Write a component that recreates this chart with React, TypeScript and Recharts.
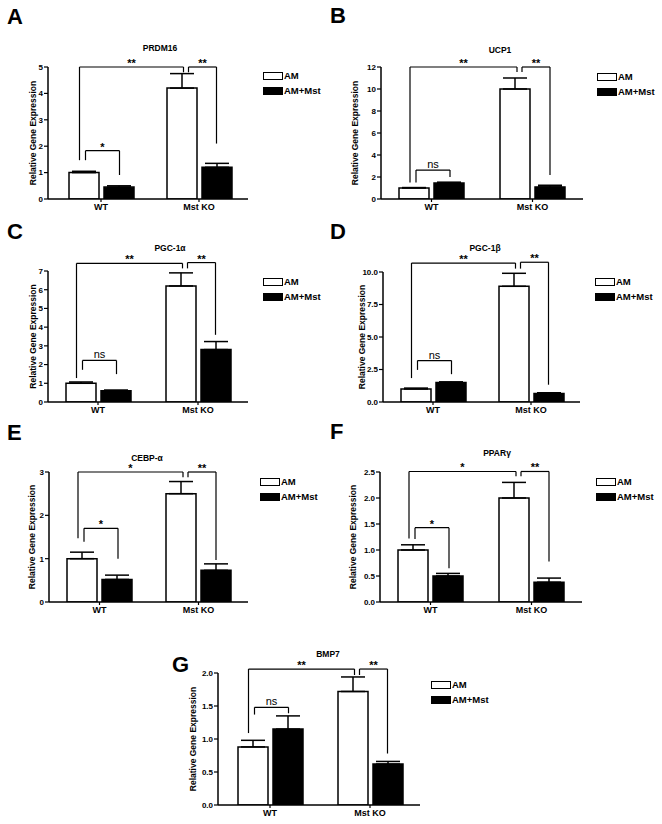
import React from "react"
import { BarChart, Bar, XAxis, YAxis, ErrorBar, ReferenceLine } from "recharts"

const FONT = "'Liberation Sans', Arial, sans-serif"
const BAR = 30
const GAP = 5

const groups = ["WT", "Mst KO"]
const slots = [0.5, 1.5]

// A - PRDM16
const prdm16Am = [1.0, 4.2]
const prdm16AmErr = [0.05, 0.55]
const prdm16Mst = [0.45, 1.2]
const prdm16MstErr = [0.05, 0.15]
const prdm16Ticks = [0, 1, 2, 3, 4, 5]

// B - UCP1
const ucp1Am = [1.0, 10.0]
const ucp1AmErr = [0.04, 1.0]
const ucp1Mst = [1.45, 1.1]
const ucp1MstErr = [0.08, 0.15]
const ucp1Ticks = [0, 2, 4, 6, 8, 10, 12]

// C - PGC-1a
const pgc1aAm = [1.0, 6.2]
const pgc1aAmErr = [0.07, 0.7]
const pgc1aMst = [0.6, 2.8]
const pgc1aMstErr = [0.04, 0.43]
const pgc1aTicks = [0, 1, 2, 3, 4, 5, 6, 7]

// D - PGC-1b
const pgc1bAm = [1.0, 8.9]
const pgc1bAmErr = [0.07, 1.0]
const pgc1bMst = [1.5, 0.65]
const pgc1bMstErr = [0.05, 0.06]
const pgc1bTicks = [0, 2.5, 5, 7.5, 10]

// E - CEBP-a
const cebpaAm = [1.0, 2.5]
const cebpaAmErr = [0.15, 0.28]
const cebpaMst = [0.52, 0.73]
const cebpaMstErr = [0.1, 0.15]
const cebpaTicks = [0, 1, 2, 3]

// F - PPARg
const ppargAm = [1.0, 2.0]
const ppargAmErr = [0.1, 0.3]
const ppargMst = [0.5, 0.38]
const ppargMstErr = [0.05, 0.08]
const ppargTicks = [0, 0.5, 1, 1.5, 2, 2.5]

// G - BMP7
const bmp7Am = [0.88, 1.72]
const bmp7AmErr = [0.1, 0.22]
const bmp7Mst = [1.15, 0.62]
const bmp7MstErr = [0.2, 0.04]
const bmp7Ticks = [0, 0.5, 1, 1.5, 2]

// significance brackets: bar keys wa/wm/ka/km, top height, leg ends
const prdm16Brackets = [
  { from: "wa", to: "ka", top: 5, legs: [1.47, 4.8], text: "**" },
  { from: "ka", to: "km", top: 5, legs: [4.8, 2.1], text: "**" },
  { from: "wa", to: "wm", top: 1.83, legs: [1.47, 0.91], text: "*" },
]
const ucp1Brackets = [
  { from: "wa", to: "ka", top: 12, legs: [1.5, 11.55], text: "**" },
  { from: "ka", to: "km", top: 12, legs: [11.55, 2.18], text: "**" },
  { from: "wa", to: "wm", top: 2.63, legs: [1.5, 2.0], text: "ns" },
]
const pgc1aBrackets = [
  { from: "wa", to: "ka", top: 7.41, legs: [1.28, 7.14], text: "**" },
  { from: "ka", to: "km", top: 7.45, legs: [7.14, 3.59], text: "**" },
  { from: "wa", to: "wm", top: 2.22, legs: [1.72, 1.49], text: "ns" },
]
const pgc1bBrackets = [
  { from: "wa", to: "ka", top: 10.69, legs: [1.84, 10.26], text: "**" },
  { from: "ka", to: "km", top: 10.75, legs: [10.26, 1.33], text: "**" },
  { from: "wa", to: "wm", top: 3.19, legs: [2.47, 2.14], text: "ns" },
]
const cebpaBrackets = [
  { from: "wa", to: "ka", top: 3.0, legs: [1.47, 2.88], text: "*" },
  { from: "ka", to: "km", top: 3.0, legs: [2.88, 0.97], text: "**" },
  { from: "wa", to: "wm", top: 1.7, legs: [1.39, 1.0], text: "*" },
]
const ppargBrackets = [
  { from: "wa", to: "ka", top: 2.51, legs: [1.22, 2.42], text: "*" },
  { from: "ka", to: "km", top: 2.51, legs: [2.42, 0.78], text: "**" },
  { from: "wa", to: "wm", top: 1.43, legs: [1.21, 0.65], text: "*" },
]
const bmp7Brackets = [
  { from: "wa", to: "ka", top: 2.06, legs: [1.09, 1.97], text: "**" },
  { from: "ka", to: "km", top: 2.06, legs: [1.97, 0.78], text: "**" },
  { from: "wa", to: "wm", top: 1.48, legs: [1.37, 1.39], text: "ns" },
]

const panels = [
  { letter: "A", letterPos: [7, 6], title: "PRDM16", titlePos: [160, 48], am: prdm16Am, amErr: prdm16AmErr, mst: prdm16Mst, mstErr: prdm16MstErr, ticks: prdm16Ticks, dec: 0, brackets: prdm16Brackets, plotLeft: 48, plotTop: 67, plotBottom: 199, pad: 4, band: 98, yWidth: 30, legend: [263, 72] },
  { letter: "B", letterPos: [330, 5], title: "UCP1", titlePos: [500, 50], am: ucp1Am, amErr: ucp1AmErr, mst: ucp1Mst, mstErr: ucp1MstErr, ticks: ucp1Ticks, dec: 0, brackets: ucp1Brackets, plotLeft: 381, plotTop: 67, plotBottom: 199, pad: 0, band: 101, yWidth: 52, legend: [597, 73] },
  { letter: "C", letterPos: [7, 221], title: "PGC-1\u03b1", titlePos: [170, 248], am: pgc1aAm, amErr: pgc1aAmErr, mst: pgc1aMst, mstErr: pgc1aMstErr, ticks: pgc1aTicks, dec: 0, brackets: pgc1aBrackets, plotLeft: 48, plotTop: 271, plotBottom: 402, pad: 0, band: 100, yWidth: 30, legend: [263, 278] },
  { letter: "D", letterPos: [330, 221], title: "PGC-1\u03b2", titlePos: [485, 248], am: pgc1bAm, amErr: pgc1bAmErr, mst: pgc1bMst, mstErr: pgc1bMstErr, ticks: pgc1bTicks, dec: 1, brackets: pgc1bBrackets, plotLeft: 383, plotTop: 272, plotBottom: 402, pad: 1, band: 98, yWidth: 42, legend: [595, 278] },
  { letter: "E", letterPos: [7, 422], title: "CEBP-\u03b1", titlePos: [147, 458], am: cebpaAm, amErr: cebpaAmErr, mst: cebpaMst, mstErr: cebpaMstErr, ticks: cebpaTicks, dec: 0, brackets: cebpaBrackets, plotLeft: 49, plotTop: 472, plotBottom: 602, pad: 1, band: 99, yWidth: 34, legend: [260, 478] },
  { letter: "F", letterPos: [330, 421], title: "PPAR\u03b3", titlePos: [497, 453], am: ppargAm, amErr: ppargAmErr, mst: ppargMst, mstErr: ppargMstErr, ticks: ppargTicks, dec: 1, brackets: ppargBrackets, plotLeft: 380, plotTop: 472, plotBottom: 602, pad: 0, band: 101, yWidth: 54, legend: [596, 478] },
  { letter: "G", letterPos: [172, 654], title: "BMP7", titlePos: [328, 654], am: bmp7Am, amErr: bmp7AmErr, mst: bmp7Mst, mstErr: bmp7MstErr, ticks: bmp7Ticks, dec: 1, brackets: bmp7Brackets, plotLeft: 218, plotTop: 673, plotBottom: 805, pad: 2, band: 100, yWidth: 50, legend: [431, 681] },
]

function nudge(b: any) {
  if (b.from === "wa" && b.to === "ka") return [-4, 2]
  if (b.from === "ka") return [7, 0]
  return [2, 1]
}

function Legend({ x, y }: { x: number; y: number }) {
  const items = [
    { name: "AM", fill: "#fff" },
    { name: "AM+Mst", fill: "#000" },
  ]
  return (
    <>
      {items.map((it, i) => (
        <div key={it.name} style={{ position: "absolute", left: x, top: y + i * 15, display: "flex", alignItems: "center", height: 8 }}>
          <span style={{ display: "inline-block", width: 18, height: 6, background: it.fill, border: "1.5px solid #000" }} />
          <span style={{ marginLeft: 1, fontSize: 9.5, fontWeight: 700, fontFamily: FONT, lineHeight: "8px" }}>{it.name}</span>
        </div>
      ))}
    </>
  )
}

function Panel({ p }: { p: any }) {
  const data = groups.map((g, i) => ({
    group: g,
    slot: slots[i],
    am: p.am[i],
    amErr: [0, p.amErr[i]],
    mst: p.mst[i],
    mstErr: [0, p.mstErr[i]],
  }))
  const boxLeft = p.plotLeft - p.yWidth
  const boxTop = p.plotTop - 24
  const width = p.yWidth + p.pad + 2 * p.band + 6
  const height = p.plotBottom - boxTop + 20
  const half = (BAR + GAP) / 2 / p.band
  const pos: Record<string, number> = { wa: 0.5 - half, wm: 0.5 + half, ka: 1.5 - half, km: 1.5 + half }
  const yMax = p.ticks[p.ticks.length - 1]
  const line = { stroke: "#000", strokeWidth: 1.2, ifOverflow: "visible" as const, xAxisId: "b" }

  return (
    <>
      <div style={{ position: "absolute", left: p.letterPos[0], top: p.letterPos[1], fontSize: 22, fontWeight: 700, fontFamily: FONT, lineHeight: "22px" }}>
        {p.letter}
      </div>
      <div style={{ position: "absolute", left: p.titlePos[0] - 60, top: p.titlePos[1] - 5, width: 120, textAlign: "center", fontSize: 8.5, fontWeight: 700, fontFamily: FONT, lineHeight: "10px" }}>
        {p.title}
      </div>
      <div style={{ position: "absolute", left: boxLeft, top: boxTop }}>
        <BarChart width={width} height={height} data={data} barGap={GAP} margin={{ top: 24, right: 6, bottom: 0, left: 0 }} style={{ overflow: "visible" }}>
          <XAxis
            dataKey="group"
            height={20}
            padding={{ left: p.pad, right: 0 }}
            tickLine={{ stroke: "#000", strokeWidth: 1.2 }}
            tickSize={3}
            tickMargin={2}
            axisLine={{ stroke: "#000", strokeWidth: 1.5 }}
            tick={{ fill: "#000", fontSize: 9, fontWeight: 700, fontFamily: FONT }}
          />
          <XAxis xAxisId="b" dataKey="slot" type="number" domain={[0, 2]} hide allowDataOverflow padding={{ left: p.pad, right: 0 }} />
          <YAxis
            width={p.yWidth}
            domain={[0, yMax]}
            ticks={p.ticks}
            allowDataOverflow
            interval={0}
            tickSize={4}
            tickMargin={1}
            tickFormatter={(v: number) => v.toFixed(p.dec)}
            axisLine={{ stroke: "#000", strokeWidth: 1.5 }}
            tickLine={{ stroke: "#000", strokeWidth: 1.2 }}
            tick={{ fill: "#000", fontSize: 8, fontWeight: 700, fontFamily: FONT }}
            label={{ value: "Relative Gene Expression", angle: -90, position: "center", style: { fontSize: 8.5, fontWeight: 700, fontFamily: FONT, fill: "#000" } }}
          />
          <Bar dataKey="am" name="AM" barSize={BAR} fill="#fff" stroke="#000" strokeWidth={1.5} isAnimationActive={false}>
            <ErrorBar dataKey="amErr" width={12} stroke="#000" strokeWidth={1.5} direction="y" />
          </Bar>
          <Bar dataKey="mst" name="AM+Mst" barSize={BAR} fill="#000" stroke="#000" strokeWidth={1.5} isAnimationActive={false}>
            <ErrorBar dataKey="mstErr" width={12} stroke="#000" strokeWidth={1.5} direction="y" />
          </Bar>
          {p.brackets.map((b: any, i: number) => {
            const [n1, n2] = nudge(b)
            const x1 = pos[b.from] + n1 / p.band
            const x2 = pos[b.to] + n2 / p.band
            const isNs = b.text === "ns"
            return [
              <ReferenceLine key={`l${i}`} {...line} segment={[{ x: x1, y: b.legs[0] }, { x: x1, y: b.top }]} />,
              <ReferenceLine
                key={`t${i}`}
                {...line}
                segment={[{ x: x1, y: b.top }, { x: x2, y: b.top }]}
                label={{ value: b.text, position: "top", offset: isNs ? 2 : 0, fill: "#000", fontSize: 11, fontWeight: isNs ? 400 : 700, fontFamily: FONT }}
              />,
              <ReferenceLine key={`r${i}`} {...line} segment={[{ x: x2, y: b.top }, { x: x2, y: b.legs[1] }]} />,
            ]
          })}
        </BarChart>
      </div>
      <Legend x={p.legend[0]} y={p.legend[1]} />
    </>
  )
}

export default function App() {
  return (
    <div style={{ position: "absolute", left: 0, top: 0, width: 662, height: 824, background: "#fff", fontFamily: FONT, color: "#000" }}>
      {panels.map((p) => (
        <Panel key={p.letter} p={p} />
      ))}
    </div>
  )
}
